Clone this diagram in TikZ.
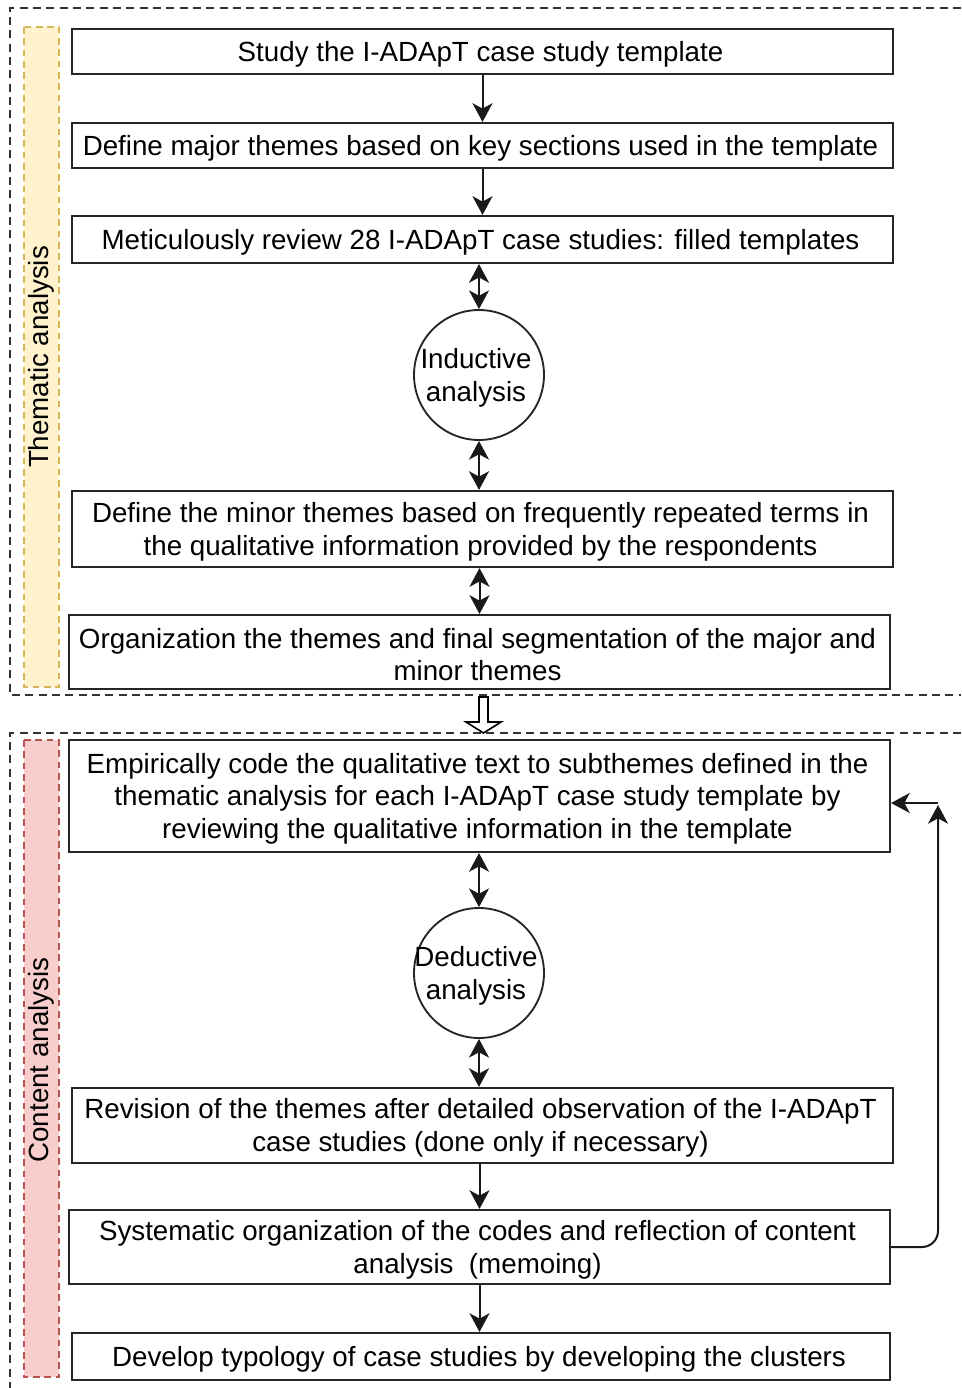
\documentclass[tikz,border=0pt]{standalone}
\usepackage{fontspec}
\setmainfont{Liberation Sans}
\usetikzlibrary{arrows.meta}
\definecolor{ylwfill}{HTML}{FFF2CC}
\definecolor{ylwline}{HTML}{D6B656}
\definecolor{redfill}{HTML}{F8CECC}
\definecolor{redline}{HTML}{B85450}
\definecolor{frameline}{HTML}{333333}
\tikzset{
  stepbox/.style={draw=black!85, line width=1.6pt, fill=white, inner sep=0pt},
  steptext/.style={align=center, inner sep=0pt, font=\fontsize{20.8pt}{24.5pt}\selectfont},
  roundnode/.style={draw=black!85, line width=1.4pt, circle, fill=white, inner sep=0pt,
    minimum size=97.5pt},
  framebox/.style={draw=frameline, line width=1.2pt, dash pattern=on 6pt off 4pt},
  sidebar/.style={line width=1.2pt, dash pattern=on 5pt off 3.5pt},
  sidelabel/.style={rotate=90, font=\fontsize{20.8pt}{24.5pt}\selectfont},
  bigtip/.tip={Stealth[length=14pt,width=15pt,inset=4pt]},
  link/.style={line width=1.5pt, draw=black!90, -bigtip},
  dlink/.style={line width=1.5pt, draw=black!90, bigtip-bigtip}
}
\newcommand\bx[6]{%
  \pgfmathsetmacro\cxx{(#2+#4)/2}\pgfmathsetmacro\cyy{(#3+#5)/2}%
  \pgfmathsetmacro\ww{(#4-#2)*0.75}\pgfmathsetmacro\hh{(#5-#3)*0.75}%
  \node[stepbox, minimum width=\ww pt, minimum height=\hh pt] (#1) at (\cxx,\cyy) {};
  \node[steptext] (#1t) at (\cxx-2,\cyy+2.5) {#6};}
\begin{document}
\begin{tikzpicture}[x=0.75pt,y=-0.75pt]
\useasboundingbox (0,0) rectangle (961,1388);
% outer frames
\draw[framebox] (961,8) -- (10,8) -- (10,695) -- (961,695);
\draw[framebox] (961,733) -- (10,733) -- (10,1388);
% side bars
\draw[sidebar, fill=ylwfill, draw=ylwline] (24,27) rectangle (59,687);
\draw[sidebar, fill=redfill, draw=redline] (24,740) rectangle (59,1377);
\node[sidelabel] (lab1) at (41.5,357) {Thematic analysis};
\node[sidelabel] (lab2) at (41.5,1060) {Content analysis};
% boxes
\bx{b1}{72}{29}{893}{74}{Study the I-ADApT case study template}
\bx{b2}{72}{123}{893}{168}{Define major themes based on key sections used in the template}
\bx{b3}{72}{216}{893}{263}{Meticulously review 28 I-ADApT case studies: filled templates}
\node[roundnode] (ind) at (479,375) {};
\node[steptext] (indt) at (476,378) {Inductive\\analysis};
\bx{b4}{72}{491}{893}{567}{Define the minor themes based on frequently repeated terms in\\the qualitative information provided by the respondents}
\bx{b5}{69}{615}{890}{689}{Organization the themes and final segmentation of the major and\\minor themes}
\bx{b6}{69}{740}{890}{852}{Empirically code the qualitative text to subthemes defined in the\\thematic analysis for each I-ADApT case study template by\\reviewing the qualitative information in the template}
\node[roundnode] (ded) at (479,973) {};
\node[steptext] (dedt) at (476,976) {Deductive\\analysis};
\bx{b7}{72}{1088}{893}{1163}{Revision of the themes after detailed observation of the I-ADApT\\case studies (done only if necessary)}
\bx{b8}{69}{1210}{890}{1284}{Systematic organization of the codes and reflection of content\\analysis\ \ (memoing)}
\bx{b9}{72}{1333}{890}{1380}{Develop typology of case studies by developing the clusters}
% connectors
\draw[link] (b1) -- (b2);
\draw[link] (b2) -- (b3);
\draw[dlink] (ind.north |- b3.south) -- (ind.north);
\draw[dlink] (ind.south) -- (ind.south |- b4.north);
\draw[dlink] (b5.north |- b4.south) -- (b5.north);
\draw[dlink] (ded.north |- b6.south) -- (ded.north);
\draw[dlink] (ded.south) -- (ded.south |- b7.north);
\draw[link] (b8.north |- b7.south) -- (b8.north);
\draw[link] (b8.south) -- (b8.south |- b9.north);
% hollow arrow between phases
\draw[line width=1.2pt, fill=white, line join=miter]
  (479,697) -- (488,697) -- (488,722) -- (501,722) -- (483.5,733) -- (466,722) -- (479,722) -- cycle;
% feedback loop
\coordinate (fbtop) at (938,805);
\coordinate (fbturn) at (938,803);
\draw[link, rounded corners=12pt] (b8.east) -- (b8.east -| fbtop) -- (fbtop);
\draw[link] (fbturn) -- (fbturn -| b6.east);
\end{tikzpicture}
\end{document}
